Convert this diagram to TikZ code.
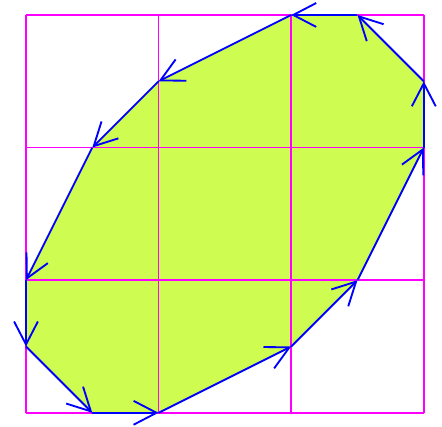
\documentclass[tikz,border=0pt]{standalone}
\usetikzlibrary{arrows.meta}
\definecolor{leaf}{RGB}{206,252,80}
\definecolor{gridpink}{RGB}{255,0,255}
\definecolor{rim}{RGB}{0,0,255}
\begin{document}
\begin{tikzpicture}[
    edge/.style={rim, line width=1.2pt, -{Straight Barb[length=5.2mm, width=5.4mm]}}
  ]
    \useasboundingbox (-0.588,-0.317) rectangle (9.412,9.339);

    % Corners of the region
    \coordinate (a) at (6,9);
    \coordinate (b) at (7.5,9);
    \coordinate (c) at (9,7.5);
    \coordinate (d) at (9,6);
    \coordinate (e) at (7.5,3);
    \coordinate (f) at (6,1.5);
    \coordinate (g) at (3,0);
    \coordinate (h) at (1.5,0);
    \coordinate (i) at (0,1.5);
    \coordinate (j) at (0,3);
    \coordinate (k) at (1.5,6);
    \coordinate (l) at (3,7.5);

    % Region
    \fill[leaf] (a) -- (b) -- (c) -- (d) -- (e) -- (f) -- (g) -- (h) -- (i) -- (j) -- (k) -- (l) -- cycle;

    % Grid
    \draw[gridpink, line width=1.1pt, step=3cm] (0,0) grid (9,9);

    % Boundary, traversed counterclockwise
    \foreach \s/\t in {b/a, c/b, d/c, e/d, f/e, g/f, h/g, i/h, j/i, k/j, l/k, a/l}
        \draw[edge] (\s) -- (\t);
\end{tikzpicture}
\end{document}
